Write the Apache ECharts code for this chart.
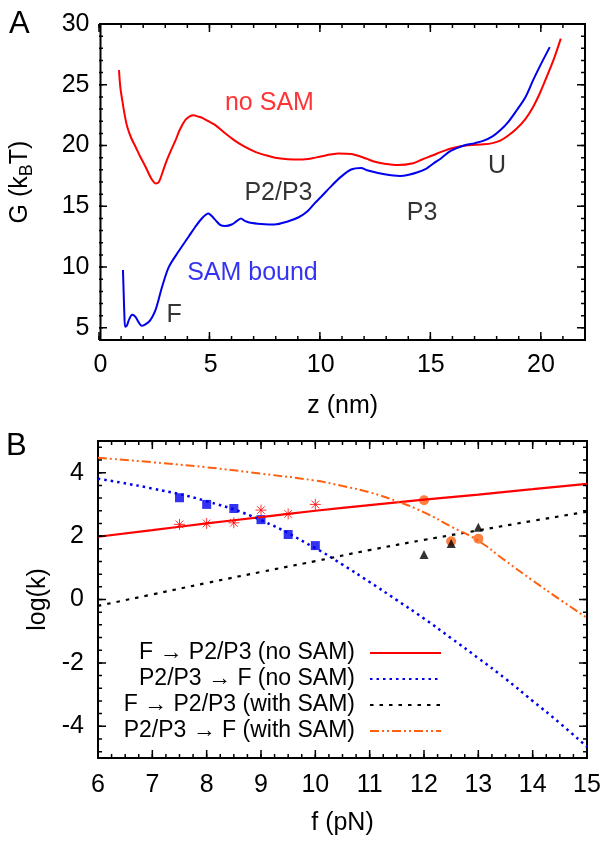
<!DOCTYPE html>
<html>
<head>
<meta charset="utf-8">
<script src="https://cdn.jsdelivr.net/npm/echarts@6/dist/echarts.min.js"></script>
<style>
html,body{margin:0;padding:0;background:#fff}
#main{width:612px;height:845px}
#ticks{position:absolute;left:0;top:0;width:612px;height:845px;pointer-events:none}
</style>
</head>
<body>
<div id="main"></div>
<div id="ticks"></div>
<script>
// ---- panel A : free energy profiles G(z) ----
var noSamCurve = [[0.84,26.2],[0.9,24.8],[0.99,23.7],[1.1,22.5],[1.22,21.5],[1.4,20.6],[1.59,19.9],[1.8,19.1],[2.05,18.24],[2.3,17.3],[2.5,16.88],[2.65,17.0],[2.8,17.7],[2.95,18.5],[3.2,19.6],[3.4,20.4],[3.6,21.3],[3.85,22.1],[4.05,22.4],[4.23,22.5],[4.4,22.4],[4.6,22.3],[4.9,22.0],[5.2,21.7],[5.6,21.1],[6.1,20.4],[6.5,19.95],[7.0,19.5],[7.5,19.2],[7.92,19.0],[8.5,18.88],[9.1,18.85],[9.6,18.95],[10.0,19.1],[10.5,19.28],[10.8,19.35],[11.4,19.3],[11.8,19.1],[12.1,18.9],[12.5,18.65],[12.9,18.5],[13.5,18.4],[14.2,18.55],[14.6,18.85],[15.1,19.2],[15.5,19.5],[16.0,19.8],[16.6,20.0],[17.4,20.1],[17.8,20.2],[18.15,20.4],[18.5,20.8],[18.9,21.4],[19.3,22.2],[19.65,23.2],[19.95,24.3],[20.25,25.6],[20.6,27.2],[20.9,28.8]];
var samBoundCurve = [[1.02,9.76],[1.05,8.0],[1.08,6.3],[1.12,5.1],[1.2,5.2],[1.3,5.7],[1.44,6.07],[1.59,5.9],[1.72,5.5],[1.87,5.17],[2.0,5.25],[2.2,5.5],[2.35,5.9],[2.5,6.48],[2.65,7.4],[2.8,8.4],[3.1,10.0],[3.55,11.3],[4.0,12.5],[4.3,13.3],[4.6,14.0],[4.9,14.4],[5.05,14.2],[5.2,13.9],[5.45,13.45],[5.66,13.37],[5.96,13.5],[6.2,13.8],[6.38,14.0],[6.55,13.8],[6.8,13.65],[7.3,13.55],[7.9,13.5],[8.5,13.75],[9.0,14.1],[9.4,14.6],[9.72,15.24],[10.0,15.75],[10.5,16.7],[10.9,17.4],[11.38,18.03],[11.83,18.16],[12.1,17.97],[12.9,17.64],[13.6,17.5],[14.0,17.6],[14.4,17.8],[14.8,18.1],[15.1,18.5],[15.5,19.0],[15.9,19.56],[16.5,20.0],[17.0,20.2],[17.4,20.4],[17.8,20.75],[18.15,21.25],[18.5,21.9],[18.9,22.9],[19.3,24.0],[19.65,25.4],[20.0,26.7],[20.4,28.1]];
var zRange = [0, 22];
var gRange = [4, 30];
var zTicks = [0, 5, 10, 15, 20];
var gTicks = [5, 10, 15, 20, 25, 30];
// labels written on panel A
var annoText  = ['no SAM', 'P2/P3', 'SAM bound', 'F', 'P3', 'U'];
var annoZ     = [7.67, 8.08, 6.9, 3.34, 14.6, 18.0];
var annoG     = [23.47, 16.08, 9.52, 6.07, 14.44, 18.3];
var annoColor = ['#ff0000', '#000', '#0000ee', '#000', '#000', '#000'];

// ---- panel B : log(k) vs force ----
var fRange = [6, 15];
var kRange = [-5, 5];
var forces = [6, 7, 8, 9, 10, 11, 12, 13, 14, 15];
var fitFoldNoSam = [1.98, 2.19, 2.4, 2.6, 2.8, 2.98, 3.15, 3.31, 3.48, 3.65];
var fitFoldSam   = [-0.2, 0.16, 0.52, 0.87, 1.21, 1.56, 1.88, 2.18, 2.48, 2.77];
var forcesFine = [6, 7, 8, 9, 10, 10.5, 11, 11.5, 12, 12.5, 13, 13.5, 14, 14.5, 15];
var fitUnfoldNoSam = [3.81, 3.5, 3.1, 2.5, 1.62, 1.1, 0.55, -0.02, -0.6, -1.22, -1.85, -2.5, -3.2, -3.9, -4.65];
var fitUnfoldSam   = [4.47, 4.33, 4.17, 3.97, 3.75, 3.58, 3.38, 3.1, 2.75, 2.3, 1.85, 1.22, 0.6, 0.0, -0.58];
var fNoSam = [7.5, 8, 8.5, 9, 9.5, 10];
var kFoldNoSam   = [2.37, 2.40, 2.42, 2.82, 2.70, 3.00];
var kUnfoldNoSam = [3.21, 3.00, 2.87, 2.52, 2.05, 1.70];
var fSam = [12, 12.5, 13];
var kFoldSam   = [1.42, 1.77, 2.28];
var kUnfoldSam = [3.13, 1.84, 1.92];
var logkTicks = [-4, -2, 0, 2, 4];
var legendNames = ['F \u2192 P2/P3 (no SAM)', 'P2/P3 \u2192 F (no SAM)', 'F \u2192 P2/P3 (with SAM)', 'P2/P3 \u2192 F (with SAM)'];

var FONT = 'Liberation Sans';
var RED = '#ff0000', BLUE = '#0000ee', ORANGE = '#ff6010';
// plot boxes (left, right, top, bottom) in px
var boxA = {left: 99, right: 27, top: 24, bottom: 505};
var boxB = {left: 98, right: 25, top: 441, bottom: 87};

function zip(xs, ys) {
    var out = [];
    for (var i = 0; i < xs.length; i++) out.push([xs[i], ys[i]]);
    return out;
}
function steps(from, to, step) {
    var out = [];
    for (var v = from; v <= to + 1e-9; v += step) out.push(Math.round(v * 1000) / 1000);
    return out;
}

function makeAxis(grid, pos, range, labels, margin, name, nameGap, rich) {
    return {
        type: 'value', gridIndex: grid, position: pos, min: range[0], max: range[1],
        splitLine: {show: false},
        axisLine: {show: false},
        axisTick: {show: false},
        axisLabel: {show: true, customValues: labels, margin: margin, color: '#000', fontSize: 25, fontFamily: FONT},
        name: name, nameLocation: 'middle', nameGap: nameGap, nameRotate: pos == 'left' ? 90 : 0,
        nameTextStyle: {color: '#000', fontSize: 25, fontFamily: FONT, rich: rich}
    };
}

// inward ticks on both opposite sides, drawn as broken line segments in data units
function tickLines(idx, dim, values, lenPx, box, xr, yr) {
    var w = 612 - box.left - box.right, h = 845 - box.top - box.bottom;
    var data = [];
    for (var i = 0; i < values.length; i++) {
        var v = values[i];
        if (dim == 'x') {
            var dy = lenPx / h * (yr[1] - yr[0]);
            data.push([v, yr[0]], [v, yr[0] + dy], [v, '-'], [v, yr[1]], [v, yr[1] - dy], [v, '-']);
        } else {
            var dx = lenPx / w * (xr[1] - xr[0]);
            data.push([xr[0], v], [xr[0] + dx, v], ['-', v], [xr[1], v], [xr[1] - dx, v], ['-', v]);
        }
    }
    return {type: 'line', xAxisIndex: idx, yAxisIndex: idx, data: data, symbol: 'none', silent: true,
        connectNulls: false, clip: false, lineStyle: {color: '#000', width: 1.5}};
}

var subRich = {
    a: {fontSize: 25, fontFamily: FONT, color: '#000'},
    s: {fontSize: 18, fontFamily: FONT, color: '#000', padding: [14, 0, 0, 0]}
};

var xAxes = [
    makeAxis(0, 'bottom', zRange, zTicks, 13, 'z (nm)', 54),
    makeAxis(1, 'bottom', fRange, forces, 15, 'f (pN)', 53)
];
var yAxes = [
    makeAxis(0, 'left', gRange, gTicks, 11, '{a|G (k}{s|B}{a|T)}', 64, subRich),
    makeAxis(1, 'left', kRange, logkTicks, 14, 'log(k)', 44)
];

var annoData = [];
for (var i = 0; i < annoText.length; i++) {
    annoData.push({value: [annoZ[i], annoG[i]], name: annoText[i], label: {color: annoColor[i]}});
}

var asterisk = 'path://M0,-6L0,6M-6,0L6,0M-4.2,-4.2L4.2,4.2M-4.2,4.2L4.2,-4.2';

var series = [
    {type: 'line', xAxisIndex: 0, yAxisIndex: 0, data: noSamCurve, symbol: 'none', smooth: 0.3,
        color: RED, lineStyle: {color: RED, width: 2}, z: 3},
    {type: 'line', xAxisIndex: 0, yAxisIndex: 0, data: samBoundCurve, symbol: 'none', smooth: 0.3,
        color: BLUE, lineStyle: {color: BLUE, width: 2}, z: 3},
    {type: 'scatter', xAxisIndex: 0, yAxisIndex: 0, data: annoData, symbolSize: 0, silent: true,
        label: {show: true, position: 'inside', formatter: '{b}', fontSize: 25, fontFamily: FONT,
            textBorderWidth: 0, textShadowBlur: 0}},

    {name: legendNames[0], type: 'line', xAxisIndex: 1, yAxisIndex: 1, data: zip(forces, fitFoldNoSam),
        symbol: 'none', smooth: true, color: RED, lineStyle: {color: RED, width: 2.2}},
    {name: legendNames[1], type: 'line', xAxisIndex: 1, yAxisIndex: 1, data: zip(forcesFine, fitUnfoldNoSam),
        symbol: 'none', smooth: true, color: BLUE, lineStyle: {color: BLUE, width: 2.5, type: [2.5, 4]}},
    {name: legendNames[2], type: 'line', xAxisIndex: 1, yAxisIndex: 1, data: zip(forces, fitFoldSam),
        symbol: 'none', smooth: true, color: '#000', lineStyle: {color: '#000', width: 2.2, type: [3.5, 6]}},
    {name: legendNames[3], type: 'line', xAxisIndex: 1, yAxisIndex: 1, data: zip(forcesFine, fitUnfoldSam),
        symbol: 'none', smooth: true, color: ORANGE, lineStyle: {color: ORANGE, width: 2, type: [9, 3, 2, 3, 2, 3]}},

    {type: 'scatter', xAxisIndex: 1, yAxisIndex: 1, data: zip(fNoSam, kFoldNoSam), symbol: asterisk,
        symbolSize: 11, itemStyle: {color: 'transparent', borderColor: RED, borderWidth: 1}},
    {type: 'scatter', xAxisIndex: 1, yAxisIndex: 1, data: zip(fNoSam, kUnfoldNoSam), symbol: 'rect',
        symbolSize: 9, itemStyle: {color: BLUE}},
    {type: 'scatter', xAxisIndex: 1, yAxisIndex: 1, data: zip(fSam, kUnfoldSam), symbol: 'circle',
        symbolSize: 10, itemStyle: {color: ORANGE}},
    {type: 'scatter', xAxisIndex: 1, yAxisIndex: 1, data: zip(fSam, kFoldSam), symbol: 'triangle',
        symbolSize: 9, itemStyle: {color: '#000'}}
];

var gridsFramed = [
    {left: boxA.left, right: boxA.right, top: boxA.top, bottom: boxA.bottom, show: true, borderColor: '#000', borderWidth: 2},
    {left: boxB.left, right: boxB.right, top: boxB.top, bottom: boxB.bottom, show: true, borderColor: '#000', borderWidth: 2}
];

var chart = echarts.init(document.getElementById('main'));
chart.setOption({
    animation: false,
    backgroundColor: '#fff',
    grid: gridsFramed,
    xAxis: xAxes,
    yAxis: yAxes,
    legend: {
        data: legendNames, orient: 'vertical', align: 'right', right: 170, top: 640,
        itemWidth: 71, itemHeight: 14, itemGap: 0, padding: 0, selectedMode: false,
        itemStyle: {opacity: 0},
        textStyle: {fontSize: 23, fontFamily: FONT, color: '#000', lineHeight: 26, padding: [0, 10, 0, 0]}
    },
    graphic: [
        {type: 'text', left: 9, top: 9, style: {text: 'A', fontSize: 31, fontFamily: FONT, fill: '#000'}},
        {type: 'text', left: 6, top: 431, style: {text: 'B', fontSize: 31, fontFamily: FONT, fill: '#000'}}
    ],
    series: series
});

// ticks in a second, transparent chart laid over the first one (same grids and scales)
function bareAxis(grid, range) {
    return {type: 'value', gridIndex: grid, min: range[0], max: range[1],
        axisLine: {show: false}, axisTick: {show: false}, axisLabel: {show: false}, splitLine: {show: false}};
}
var tickChart = echarts.init(document.getElementById('ticks'));
tickChart.setOption({
    animation: false,
    grid: [
        {left: boxA.left, right: boxA.right, top: boxA.top, bottom: boxA.bottom},
        {left: boxB.left, right: boxB.right, top: boxB.top, bottom: boxB.bottom}
    ],
    xAxis: [bareAxis(0, zRange), bareAxis(1, fRange)],
    yAxis: [bareAxis(0, gRange), bareAxis(1, kRange)],
    series: [
        tickLines(0, 'x', zTicks, 8, boxA, zRange, gRange),
        tickLines(0, 'x', steps(0, 22, 1), 4, boxA, zRange, gRange),
        tickLines(0, 'y', gTicks, 8, boxA, zRange, gRange),
        tickLines(0, 'y', steps(4, 30, 1), 4, boxA, zRange, gRange),
        tickLines(1, 'x', forces, 8, boxB, fRange, kRange),
        tickLines(1, 'x', steps(6, 15, 0.25), 4, boxB, fRange, kRange),
        tickLines(1, 'y', logkTicks, 8, boxB, fRange, kRange),
        tickLines(1, 'y', steps(-4.8, 4.8, 0.4), 4, boxB, fRange, kRange)
    ]
});
</script>
</body>
</html>
